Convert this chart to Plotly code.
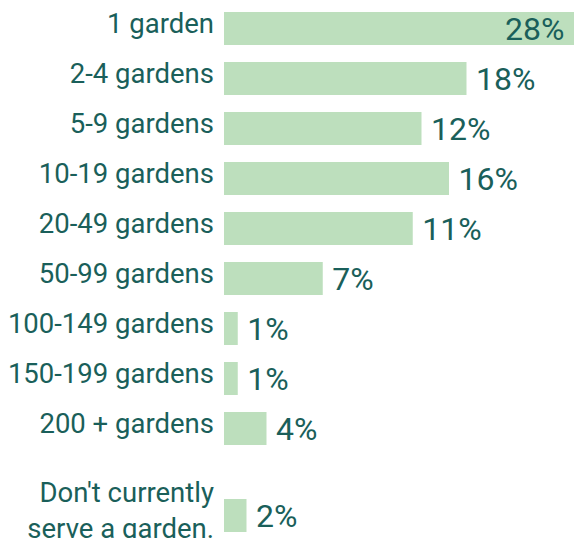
import plotly.graph_objects as go

# ---- data ----
categories = [
    "1 garden",
    "2-4 gardens",
    "5-9 gardens",
    "10-19 gardens",
    "20-49 gardens",
    "50-99 gardens",
    "100-149 gardens",
    "150-199 gardens",
    "200 + gardens",
    "Don't currently<br>serve a garden.",
]
shown_pct = [28, 18, 12, 16, 11, 7, 1, 1, 4, 2]
# bar lengths as drawn in the picture (same units as the labels, estimated)
bar_length = [28.0, 19.4, 15.8, 18.0, 15.1, 7.9, 1.1, 1.1, 3.4, 1.8]

# ---- layout constants ----
TEXT_COLOR = "#1a5f5a"
BAR_COLOR = "#bddfbd"
FONT = "Roboto, 'Open Sans', sans-serif"
EXTRA_GAP_LAST = 0.74  # the last category sits a bit lower than the rest
PAD = "\u2009"  # thin space: small gap between bar end and its label

ypos = list(range(len(categories)))
ypos[-1] = ypos[-1] + EXTRA_GAP_LAST

text_pos = ["inside" if v >= max(bar_length) else "outside" for v in bar_length]
texts = [f"{PAD}{p}%{PAD}" for p in shown_pct]

fig = go.Figure(
    go.Bar(
        x=bar_length,
        y=ypos,
        orientation="h",
        width=0.66,
        marker=dict(color=BAR_COLOR, line=dict(width=0)),
        text=texts,
        textposition=text_pos,
        insidetextanchor="end",
        textfont=dict(family=FONT, size=32, color=TEXT_COLOR),
        insidetextfont=dict(family=FONT, size=32, color=TEXT_COLOR),
        outsidetextfont=dict(family=FONT, size=32, color=TEXT_COLOR),
        constraintext="none",
        cliponaxis=False,
        hoverinfo="skip",
    )
)

fig.update_layout(
    width=574,
    height=538,
    margin=dict(l=224, r=0, t=0, b=0, pad=0),
    paper_bgcolor="white",
    plot_bgcolor="white",
    showlegend=False,
    font=dict(family=FONT, color=TEXT_COLOR),
    xaxis=dict(
        range=[0, 28],
        visible=False,
        showgrid=False,
        zeroline=False,
        fixedrange=True,
    ),
    yaxis=dict(
        tickmode="array",
        tickvals=ypos,
        ticktext=categories,
        range=[10.19, -0.57],
        showgrid=False,
        zeroline=False,
        showline=False,
        ticks="",
        tickfont=dict(family=FONT, size=27.5, color=TEXT_COLOR),
        ticklabelstandoff=9,
        ticklabelshift=5,
        ticklabeloverflow="allow",
        automargin=False,
        fixedrange=True,
    ),
)

fig.write_html(
    "out.html",
    config={"displayModeBar": False},
    post_script="document.body.style.margin='0';document.body.style.overflow='hidden';",
)
